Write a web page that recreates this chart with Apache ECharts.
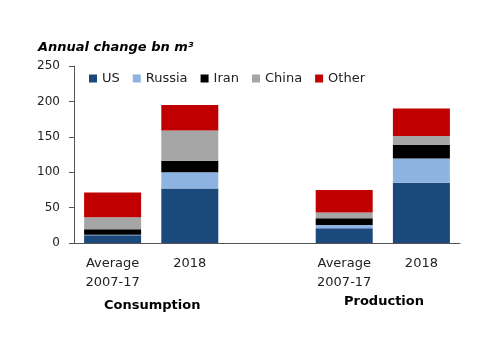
<!DOCTYPE html>
<html>
<head>
<meta charset="utf-8">
<script src="https://cdn.jsdelivr.net/npm/echarts@6/dist/echarts.min.js"></script>
<style>
  html, body { margin: 0; padding: 0; background: #fff; }
  #chart { width: 500px; height: 353px; }
</style>
</head>
<body>
<div id="chart"></div>
<script>
// categories: consumption avg, consumption 2018, gap, production avg, production 2018
const categories = ["Average\n2007-17", "2018", "", "Average\n2007-17", "2018"];
const us     = [11, 77, "-", 21, 85];
const russia = [0.5, 23, "-", 4.5, 34.5];
const iran   = [8, 16, "-", 9.5, 19];
const china  = [17, 43, "-", 8, 12.5];
const other  = [35, 36, "-", 32, 39];
const yTicks = [0, 50, 100, 150, 200, 250];

const font = "DejaVu Sans";
const colors = ["#1c497c", "#8db3e2", "#000000", "#a6a6a6", "#c00000"];

const mk = (name, data, i) => ({
  name,
  type: "bar",
  stack: "total",
  data,
  barWidth: 57,
  itemStyle: { color: colors[i] },
  emphasis: { disabled: true },
});

const chart = echarts.init(document.getElementById("chart"));
chart.setOption({
  animation: false,
  textStyle: { fontFamily: font },
  title: {
    text: "Annual change bn m\u00b3",
    left: 33,
    top: 36,
    textStyle: { fontFamily: font, fontSize: 13, fontStyle: "italic", fontWeight: "bold", color: "#000" },
  },
  legend: {
    left: 84,
    top: 67,
    itemWidth: 8,
    itemHeight: 8,
    itemGap: 13,
    icon: "rect",
    textStyle: { fontFamily: font, fontSize: 13, color: "#222" },
    data: ["US", "Russia", "Iran", "China", "Other"],
  },
  grid: { left: 74, right: 40, top: 66, bottom: 110 },
  xAxis: {
    type: "category",
    data: categories,
    axisLine: { lineStyle: { color: "#555" } },
    axisTick: { length: 5, lineStyle: { color: "#555" } },
    axisLabel: { fontSize: 13, color: "#222", lineHeight: 19, margin: 11, interval: 0 },
  },
  yAxis: {
    type: "value",
    min: 0,
    max: 250,
    interval: 50,
    axisLine: { show: true, lineStyle: { color: "#555" } },
    axisTick: { show: true, length: 5, lineStyle: { color: "#555" } },
    splitLine: { show: false },
    axisLabel: { fontSize: 12, color: "#222", margin: 14,
      formatter: (v) => (yTicks.includes(v) ? String(v) : "") },
  },
  graphic: [
    { type: "text", left: 104, top: 299,
      style: { text: "Consumption", font: "bold 13px '" + font + "'", fill: "#000" } },
    { type: "text", left: 344, top: 295,
      style: { text: "Production", font: "bold 13px '" + font + "'", fill: "#000" } },
  ],
  series: [
    mk("US", us, 0),
    mk("Russia", russia, 1),
    mk("Iran", iran, 2),
    mk("China", china, 3),
    mk("Other", other, 4),
  ],
});
</script>
</body>
</html>
